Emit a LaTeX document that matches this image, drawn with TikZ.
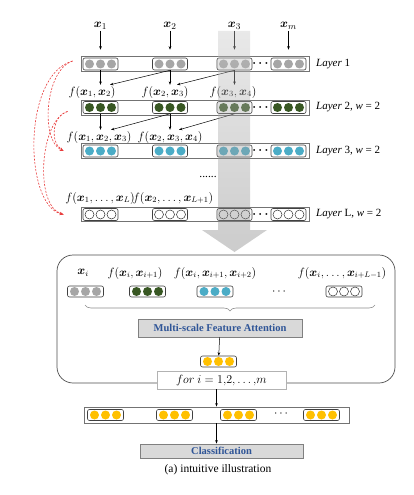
\documentclass[tikz,border=0pt]{standalone}
\usepackage{fontspec}
\setmainfont{Liberation Serif}
\usepackage{amsmath,bm}
\usetikzlibrary{arrows.meta,decorations.pathreplacing}

\definecolor{dotgray}{RGB}{166,166,166}
\definecolor{dotgreen}{RGB}{56,87,35}
\definecolor{dotblue}{RGB}{75,172,198}
\definecolor{dotorange}{RGB}{255,192,0}
\definecolor{textblue}{RGB}{47,85,151}
\definecolor{skipred}{RGB}{232,60,60}

\tikzset{
  bar/.style={draw=black!55, line width=0.9pt, minimum width=228pt, minimum height=15pt, inner sep=0pt},
  grp/.style={draw=black!75, fill=white, rounded corners=2pt, line width=0.6pt,
    minimum width=35pt, minimum height=12pt, inner sep=0pt},
  lab/.style={inner sep=1pt, font=\fontsize{11.5}{13}\selectfont},
  laylab/.style={anchor=west, inner sep=0pt, font=\fontsize{11}{13}\selectfont},
  arr/.style={-{Stealth[length=3.5pt,width=2.6pt]}, line width=0.5pt},
  skip/.style={-{Stealth[length=4pt,width=3pt]}, draw=skipred, line width=0.6pt,
    dash pattern=on 2pt off 1.5pt},
  gbox/.style={draw=black!50, fill=black!15, line width=0.6pt, minimum height=18pt,
    text=textblue, font=\bfseries\fontsize{10.5}{12}\selectfont},
  dgray/.style={fill=dotgray},
  dgreen/.style={fill=dotgreen},
  dblue/.style={fill=dotblue},
  dorange/.style={fill=dotorange},
  dwhite/.style={draw=black!80, fill=white, line width=0.5pt},
}

% one group of three cells: name, position, dot style
\newcommand{\cellgroup}[3]{%
  \node[grp] (#1) at (#2) {};
  \foreach \k in {-11,0,11} \path[#3] ([xshift=\k pt]#1.center) circle (4.5pt);
}

\begin{document}
\begin{tikzpicture}[x=1pt,y=-1pt]
\useasboundingbox (0,0) rectangle (413,495);

% inputs
\node[lab, font=\fontsize{13}{15}\selectfont] (x1) at (100.5,26) {$\bm{x}_1$};
\node[lab, font=\fontsize{13}{15}\selectfont] (x2) at (170,26) {$\bm{x}_2$};
\node[lab, font=\fontsize{13}{15}\selectfont] (x3) at (234.5,26) {$\bm{x}_3$};
\node[lab, font=\fontsize{13}{15}\selectfont] (xm) at (288.5,26) {$\bm{x}_m$};

% layer bars
\node[bar] (L1) at (195,64) {};
\node[bar] (L2) at (195,107.5) {};
\node[bar] (L3) at (195,151) {};
\node[bar, minimum height=14pt] (LL) at (195,214.5) {};

\cellgroup{g11}{100.5,64}{dgray}
\cellgroup{g12}{170,64}{dgray}
\cellgroup{g13}{234.5,64}{dgray}
\cellgroup{g14}{288.5,64}{dgray}
\cellgroup{g21}{100.5,107.5}{dgreen}
\cellgroup{g22}{170,107.5}{dgreen}
\cellgroup{g23}{234.5,107.5}{dgreen}
\cellgroup{g24}{288.5,107.5}{dgreen}
\cellgroup{g31}{100.5,151}{dblue}
\cellgroup{g32}{170,151}{dblue}
\cellgroup{g33}{234.5,151}{dblue}
\cellgroup{g34}{288.5,151}{dblue}
\cellgroup{gL1}{100.5,214.5}{dwhite}
\cellgroup{gL2}{170,214.5}{dwhite}
\cellgroup{gL3}{234.5,214.5}{dwhite}
\cellgroup{gL4}{288.5,214.5}{dwhite}

\foreach \y [count=\i] in {64,107.5,151,214.5}
  \node[lab] (dots\i) at (261.5,\y) {$\bm{\cdots}$};

\node[laylab] (n1) at (316,64) {\textit{Layer} 1};
\node[laylab] (n2) at (316,107.5) {\textit{Layer} 2, \textit{w} = 2};
\node[laylab] (n3) at (316,151) {\textit{Layer} 3, \textit{w} = 2};
\node[laylab] (nL) at (316,214.5) {\textit{Layer} L, \textit{w} = 2};

\draw[arr, shorten >=8pt] (x1) -- (g11);
\draw[arr, shorten >=8pt] (x2) -- (g12);
\draw[arr, shorten >=8pt] (x3) -- (g13);
\draw[arr, shorten >=8pt] (xm) -- (g14);

% window labels
\node[lab] (f12) at (92,92) {$f(\bm{x}_1,\bm{x}_2)$};
\node[lab] (f23) at (165,92) {$f(\bm{x}_2,\bm{x}_3)$};
\node[lab] (f34) at (233,92) {$f(\bm{x}_3,\bm{x}_4)$};
\node[lab] (f123) at (99,137) {$f(\bm{x}_1,\bm{x}_2,\bm{x}_3)$};
\node[lab] (f234) at (170,137) {$f(\bm{x}_2,\bm{x}_3,\bm{x}_4)$};
\node[lab] (f1L) at (100,198) {$f(\bm{x}_1,\dots,\bm{x}_L)$};
\node[lab] (f2L) at (173,198) {$f(\bm{x}_2,\dots,\bm{x}_{L+1})$};
\node[lab] (vdots) at (208,177) {......};

\draw[arr] (g11.south) -- (g11.south |- f12.north);
\draw[arr] (g12.south) -- ([xshift=18pt]f12.north);
\draw[arr] (g12.south) -- (g12.south |- f23.north);
\draw[arr] (g13.south) -- ([xshift=12pt]f23.north);
\draw[arr] (g13.south) -- (g13.south |- f34.north);
\draw[arr] (g21.south) -- (g21.south |- f123.north);
\draw[arr] (g22.south) -- ([xshift=12pt]f123.north);
\draw[arr] (g22.south) -- (g22.south |- f234.north);
\draw[arr] (g23.south) -- ([xshift=9pt]f234.north);

% skip connections
\draw[skip] ([shift={(-8pt,3pt)}]L1.west) .. controls (45,70) and (40,140) .. ([xshift=-17pt]L3.west);
\draw[skip] ([shift={(-8pt,3pt)}]L1.west) .. controls (22,75) and (24,205) .. ([xshift=-17pt]LL.west);
\draw[skip] ([shift={(-13pt,-4pt)}]L2.west) .. controls (52,116) and (50,142) .. ([xshift=-17pt]L3.west);
\draw[skip] ([shift={(-13pt,-4pt)}]L2.west) .. controls (40,120) and (34,205) .. ([xshift=-17pt]LL.west);

% big arrow
\path[top color=black!22, bottom color=black!50, fill opacity=0.4]
  (218,31) -- (250,31) -- (250,230) -- (267,230) -- (234.5,252) -- (202,230) -- (218,230) -- cycle;

% attention block
\draw[draw=black!70, line width=0.7pt, rounded corners=16pt] (57,255) rectangle (395,383);
\node[lab] (ti1) at (83,273) {$\bm{x}_i$};
\node[lab] (ti2) at (135,273) {$f(\bm{x}_i,\bm{x}_{i+1})$};
\node[lab] (ti3) at (215,273) {$f(\bm{x}_i,\bm{x}_{i+1},\bm{x}_{i+2})$};
\node[lab] (ti4) at (342,273) {$f(\bm{x}_i,\dots,\bm{x}_{i+L-1})$};
\tikzset{grp/.append style={minimum width=36pt, minimum height=11pt}}
\cellgroup{gi1}{85.5,291.5}{dgray}
\cellgroup{gi2}{147.5,291.5}{dgreen}
\cellgroup{gi3}{215,291.5}{dblue}
\cellgroup{gi4}{344,291.5}{dwhite}
\node[lab] (dotsi) at (280,292) {$\cdots$};
\draw[black!45, line width=0.6pt, decorate, decoration={brace, mirror, amplitude=6pt}] (85,305) -- (375,305);
\node[gbox, minimum width=164pt] (mfa) at (220,328) {Multi-scale Feature Attention};
\cellgroup{go}{218.5,361.5}{dorange}
\draw[arr] (mfa) -- (go);
\node[draw=black!30, fill=white, line width=0.6pt, minimum width=129pt, minimum height=18pt,
  inner sep=0pt, font=\fontsize{11.5}{13}\selectfont] (forbox) at (221.5,380) {$for\ i=1{,}2{,}\dots{,}m$};

% output
\node[bar, minimum width=265pt, minimum height=16pt] (L5) at (216.5,415) {};
\cellgroup{g51}{105.5,415}{dorange}
\cellgroup{g52}{174.5,415}{dorange}
\cellgroup{g53}{238.5,415}{dorange}
\cellgroup{g54}{321.5,415}{dorange}
\node[lab] (dots5) at (282,414) {$\cdots$};
\draw[arr] (forbox.south -| L5.north) -- (L5.north);
\node[gbox, minimum width=163pt, minimum height=14pt] (cls) at (221.5,451) {Classification};
\draw[arr] (L5.south) -- (L5.south |- cls.north);
\node[font=\fontsize{11.5}{13}\selectfont] (cap) at (218,470) {(a) intuitive illustration};
\end{tikzpicture}
\end{document}
